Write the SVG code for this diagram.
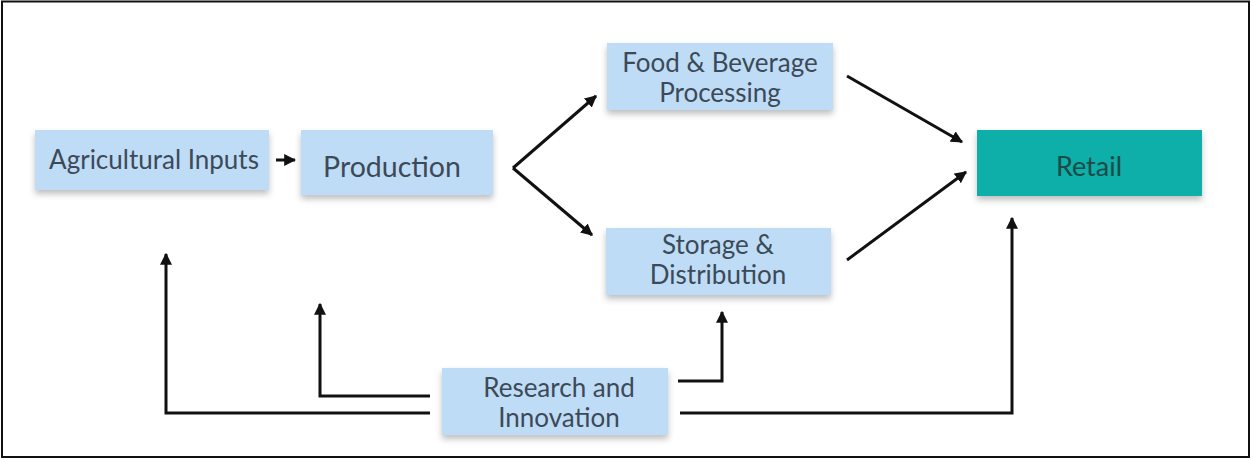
<svg xmlns="http://www.w3.org/2000/svg" width="1253" height="460" viewBox="0 0 1253 460">
<defs>
<filter id="sh" x="-10%" y="-20%" width="120%" height="160%">
<feDropShadow dx="0" dy="4" stdDeviation="3" flood-color="#000" flood-opacity="0.25"/>
</filter>
<marker id="ah" viewBox="0 0 10 10" refX="9" refY="5" markerWidth="4" markerHeight="4" orient="auto-start-reverse" markerUnits="strokeWidth">
<path d="M0,0 L10,5 L0,10 z" fill="#111"/>
</marker>
</defs>
<style>
.box{fill:#bfdcf6;filter:url(#sh)}
.ret{fill:#0bafa8;filter:url(#sh)}
.t{font-family:Lato,"Liberation Sans",sans-serif;fill:#3c4a58;text-anchor:middle;font-size:26px}
.rt{font-family:Lato,"Liberation Sans",sans-serif;fill:#1f4a48;text-anchor:middle;font-size:27px}
.c{fill:none;stroke:#111;stroke-width:3;marker-end:url(#ah)}
</style>
<rect x="2" y="1.5" width="1247" height="455.5" fill="#fff" stroke="#111" stroke-width="2"/>
<g id="agricultural-inputs">
<rect class="box" x="35" y="130" width="234" height="60"/>
<text class="t" x="154" y="169">Agricultural Inputs</text>
</g>
<g id="production">
<rect class="box" x="301" y="130" width="192" height="65"/>
<text class="t" x="392" y="177" style="font-size:28.5px">Production</text>
</g>
<g id="food-beverage">
<rect class="box" x="607" y="43" width="226" height="67"/>
<text class="t" x="720" y="72">Food &amp; Beverage</text>
<text class="t" x="720" y="102">Processing</text>
</g>
<g id="storage-distribution">
<rect class="box" x="606" y="228" width="225" height="67"/>
<text class="t" x="718" y="254">Storage &amp;</text>
<text class="t" x="718" y="284">Distribution</text>
</g>
<g id="retail">
<rect class="ret" x="977" y="130" width="225" height="66"/>
<text class="rt" x="1089" y="176">Retail</text>
</g>
<g id="research-innovation">
<rect class="box" x="442" y="368" width="226" height="67"/>
<text class="t" x="559" y="397">Research and</text>
<text class="t" x="559" y="427">Innovation</text>
</g>
<g id="connectors">
<path class="c" d="M276,160 L295,160"/>
<path class="c" d="M513,168 L596,96"/>
<path class="c" d="M513,168 L592,235"/>
<path class="c" d="M847,76 L962,142"/>
<path class="c" d="M847,260 L966,172"/>
<path class="c" d="M430,413 L166,413 L166,254"/>
<path class="c" d="M430,396 L320,396 L320,304"/>
<path class="c" d="M678,381 L722,381 L722,312"/>
<path class="c" d="M680,413 L1012,413 L1012,218"/>
</g>
</svg>
